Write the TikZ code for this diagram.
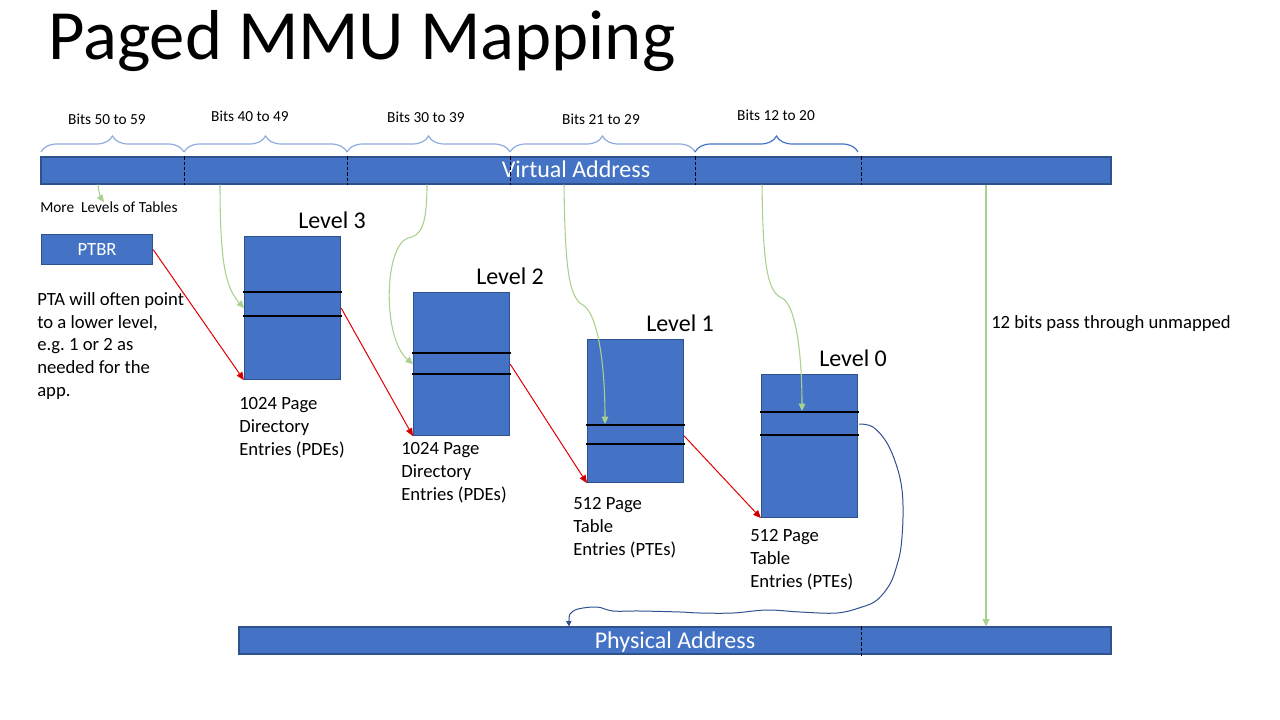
\documentclass[tikz,border=0pt]{standalone}
\usepackage{fontspec}
\setmainfont{Carlito}
\usetikzlibrary{arrows.meta,calc,decorations.pathreplacing}
\definecolor{barblue}{HTML}{4472C4}
\definecolor{bardark}{HTML}{2F528F}
\definecolor{bracelt}{HTML}{8FAADC}
\definecolor{arrgreen}{HTML}{A9D18E}
\definecolor{ptrred}{HTML}{E00000}
\definecolor{tipred}{HTML}{C00000}

\begin{document}
\begin{tikzpicture}[x=0.75pt,y=-0.75pt,
  bar/.style={draw=bardark,fill=barblue,line width=0.9pt,inner sep=0pt,text=white,
    text height=12pt,text depth=0.75pt,font=\fontsize{18}{21}\selectfont},
  tbl/.style={draw=bardark,fill=barblue,line width=0.9pt,anchor=north west,inner sep=0pt,
    minimum width=72pt,minimum height=107.25pt},
  rowline/.style={black,line width=0.9pt},
  divider/.style={black,line width=0.75pt,dash pattern=on 2.5pt off 1.5pt},
  lvl/.style={anchor=base west,inner sep=0pt,font=\fontsize{18}{21}\selectfont},
  caption/.style={anchor=base west,inner sep=0pt,align=left,font=\fontsize{14}{16.9}\selectfont},
  bitlbl/.style={anchor=base,inner sep=0pt,font=\fontsize{11.5}{13}\selectfont},
  brc/.style={decorate,decoration={brace,amplitude=12pt},line width=0.9pt},
  grn/.style={draw=arrgreen,line width=0.8pt,-{Triangle[length=5.5pt,width=5pt,fill=arrgreen]}},
  ptr/.style={draw=ptrred,line width=0.75pt,-{Triangle[length=6pt,width=5pt,fill=tipred]}},
  blueln/.style={draw=bardark,line width=0.75pt,-{Triangle[length=4pt,width=4pt]}}]
\useasboundingbox (0,0) rectangle (1280,720);

\node[anchor=base west,inner sep=0pt,font=\fontsize{53}{60}\selectfont] (title) at (48,60) {Paged MMU Mapping};

% address bars
\node[bar,minimum width=802.5pt,minimum height=20.25pt] (va) at (576,170.5) {Virtual Address};
\foreach \x in {184,347,510,695,861}
  \draw[divider] (va.north -| \x,0) -- (va.south -| \x,0);
\node[bar,minimum width=654pt,minimum height=20.25pt] (pa) at (675,640.5) {Physical Address};
\draw[divider] (pa.north -| 861,0) -- (861,657);

% bit fields
\draw[brc,draw=bracelt] (41,152) -- (184,152);
\draw[brc,draw=bracelt] (184,152) -- (347,152);
\draw[brc,draw=bracelt] (347,152) -- (510,152);
\draw[brc,draw=bracelt] (510,152) -- (695,152);
\draw[brc,draw=barblue] (695,152) -- (858,152);
\node[bitlbl] at (107,125) {Bits 50 to 59};
\node[bitlbl] at (250,122) {Bits 40 to 49};
\node[bitlbl] at (426,123) {Bits 30 to 39};
\node[bitlbl] at (601,125) {Bits 21 to 29};
\node[bitlbl] at (776,121) {Bits 12 to 20};

% left side
\node[anchor=base west,inner sep=0pt,font=\fontsize{11.5}{13}\selectfont] (more) at (40,213) {More\ \ Levels of Tables};
\node[bar,anchor=north west,minimum width=83.25pt,minimum height=22.5pt,text height=9.75pt,
  font=\fontsize{14}{16}\selectfont] (ptbr) at (41,234) {PTBR};
\node[caption] (pta) at (37,396) {PTA will often point\\to a lower level,\\e.g.\ 1 or 2 as\\needed for the\\app.};

% tables
\foreach \n/\x/\y/\a/\b/\o in {3/244/236/56/80/54, 2/413/292/61/82/63, 1/587/339/86/105/59, 0/761/374/38/61/58}{
  \node[tbl] (L\n) at (\x,\y) {};
  \draw[rowline] ($(L\n.north west)+(-1,\a)$) -- ($(L\n.north east)+(1,\a)$);
  \draw[rowline] ($(L\n.north west)+(-1,\b)$) -- ($(L\n.north east)+(1,\b)$);
  \node[lvl] (lv\n) at ($(L\n.north west)+(\o,-7.5)$) {Level \n};
}
% captions: base is the last line
\node[caption] (c3) at (239,455) {1024 Page\\Directory\\Entries (PDEs)};
\node[caption] (c2) at (401,500) {1024 Page\\Directory\\Entries (PDEs)};
\node[caption] (c1) at (573,555) {512 Page\\Table\\Entries (PTEs)};
\node[caption] (c0) at (750,587) {512 Page\\Table\\Entries (PTEs)};

% table pointers
\draw[ptr] (ptbr.east) -- (L3.south west);
\draw[ptr] (L3.east) -- (L2.south west);
\draw[ptr] (L2.east) -- (L1.south west);
\draw[ptr] ($(L1.north east)+(0,97)$) -- (L0.south west);

% index bits
\draw[grn] (va.south -| 98,0) .. controls (99,195) and (101,198) .. (more.north -| 104,0);
\draw[grn] (va.south -| 220,0) .. controls (220,265) and (226,288) .. (L3.west);
\draw[grn] (va.south -| 427,0) .. controls (427,228) and (420,236) .. (408,238)
  .. controls (384,246) and (382,338) .. (L2.west);
\draw[grn] (va.south -| 564,0) .. controls (565,262) and (568,298) .. (583,305)
  .. controls (599,315) and (605,370) .. (605,424);
\draw[grn] (va.south -| 762,0) .. controls (763,258) and (766,292) .. (782,298)
  .. controls (797,306) and (802,360) .. (802,411);
\draw[grn] (va.south -| 986,0) -- (pa.north -| 986,0);
\node[anchor=base west,inner sep=0pt,font=\fontsize{14}{16}\selectfont] (pass) at (991,328) {12 bits pass through unmapped};

% frame number into physical address
\coordinate (l0out) at ($(L0.north east)+(1,50)$);
\coordinate (pain) at (pa.north -| 569,0);
\draw[blueln] plot[smooth,tension=0.6] coordinates {(l0out) (873,427) (887,443) (897,467) (902,490)
  (903,517) (901,547) (897,565) (890,584) (877,600) (862,607) (837,613) (800,612) (767,610)
  (733,613) (700,613) (680,612) (640,611) (613,611) (597,607) (578,609) (570,614) (569,620) (pain)};
\end{tikzpicture}
\end{document}
